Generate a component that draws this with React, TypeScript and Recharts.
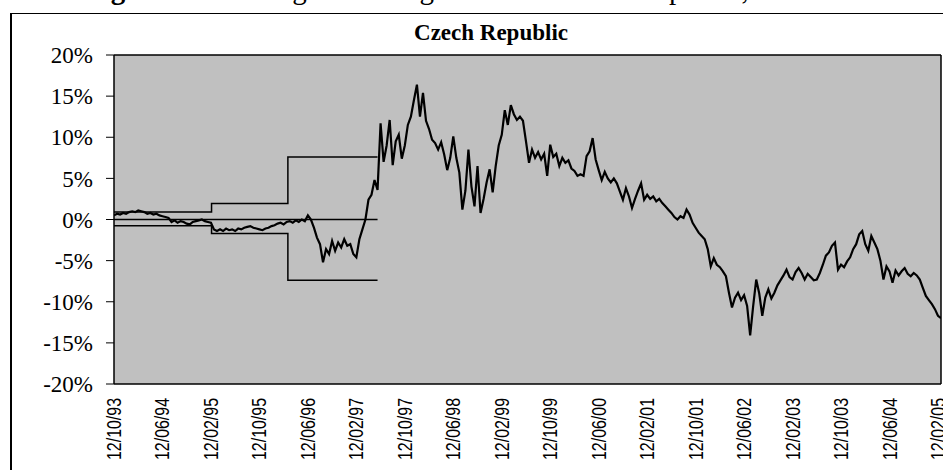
import { LineChart, Line, XAxis, YAxis, CartesianGrid, ReferenceLine } from "recharts";

// deviation of CZK from central parity, sampled every half month from 12/10/93
const DEVIATION = [
  0.5, 0.7, 0.6, 0.8, 0.7, 0.9, 1.0, 0.9, 1.1, 1.0, 0.9, 0.7, 0.8, 0.6, 0.7, 0.5, 0.4, 0.3, 0.2,
  -0.3, -0.1, -0.4, -0.2, -0.3, -0.5, -0.6, -0.3, -0.2, -0.1, 0.0, -0.2, -0.3, -0.4,
  -1.2, -1.4, -1.2, -1.4, -1.1, -1.3, -1.2, -1.4, -1.1, -1.2, -1.0, -0.9, -0.8, -1.0, -1.1, -1.2,
  -1.3, -1.1, -1.0, -0.8, -0.7, -0.5, -0.4, -0.6, -0.3, -0.2, -0.4, -0.1, -0.3, 0.0, -0.2, 0.5, 0.0,
  -1.0, -2.2, -3.0, -5.2, -3.6, -4.2, -2.6, -3.8, -2.8, -3.4, -2.4, -3.2, -3.0, -4.2, -4.6, -2.4,
  -1.2, 0.0, 2.4, 3.0, 4.8, 3.6,
  11.7, 7.0, 9.0, 12.1, 6.6, 9.5, 10.3, 7.4, 9.0, 11.5, 12.5, 14.5, 16.4, 12.5, 15.4, 12.0, 11.0,
  9.7, 9.3, 8.5, 9.4, 7.9, 6.0, 7.5, 10.1, 7.5, 5.7, 1.2, 3.5, 8.5, 4.0, 1.6, 6.5, 0.8, 2.5, 4.5,
  6.1, 3.3, 6.5, 9.0, 10.3, 13.3, 11.5, 13.9, 12.8, 12.1, 12.5, 12.0, 9.5, 6.9, 8.5, 7.5, 8.2, 7.3,
  8.0, 5.3, 9.1, 7.6, 8.0, 6.5, 7.5, 6.9, 7.2, 6.2, 5.9, 5.3, 5.5, 5.3, 7.7, 8.3, 9.9, 7.3, 6.0,
  4.8, 5.8, 5.0, 4.5, 5.0, 4.4, 3.4, 2.4, 3.8, 2.8, 1.4, 2.5, 3.5, 4.4, 2.4, 3.0, 2.5, 2.8, 2.2,
  2.5, 2.0, 1.6, 1.2, 0.8, 0.3, 0.0, 0.4, 0.2, 1.2, 0.6, -0.4, -1.0, -1.6, -2.0, -2.4, -3.6, -5.7,
  -4.7, -5.5, -5.8, -6.3, -6.9, -8.9, -10.7, -9.5, -8.9, -9.8, -9.2, -10.5, -14.1, -10.5, -7.3,
  -9.0, -11.7, -9.5, -8.5, -9.6, -8.9, -8.0, -7.4, -6.8, -6.1, -7.0, -7.3, -6.4, -5.9, -6.5, -7.3,
  -6.6, -7.0, -7.4, -7.3, -6.5, -5.5, -4.4, -4.0, -3.2, -2.8, -6.1, -5.5, -5.8, -5.1, -4.6, -3.6,
  -3.0, -1.8, -1.4, -3.0, -3.8, -2.0, -2.8, -3.6, -5.0, -7.3, -5.7, -6.3, -7.7, -6.2, -6.8, -6.3,
  -5.9, -6.6, -6.9, -6.5, -6.8, -7.3, -8.3, -9.3, -9.8, -10.3, -10.9, -11.7, -12.0,
];

// fluctuation band (months after 12/10/93)
const BAND_MONTHS = [0, 16.1, 28.7, 43.5];
const BAND_UPPER = [0.9, 1.95, 7.6, 7.6];
const BAND_LOWER = [-0.75, -1.7, -7.4, -7.4];
const PARITY_MONTHS = [0, 43.5];
const PARITY = [0, 0];

const X_TICKS = [0, 8, 16, 24, 32, 40, 48, 56, 64, 72, 80, 88, 96, 104, 112, 120, 128, 136];
const X_LABELS = [
  "12/10/93", "12/06/94", "12/02/95", "12/10/95", "12/06/96", "12/02/97", "12/10/97", "12/06/98",
  "12/02/99", "12/10/99", "12/06/00", "12/02/01", "12/10/01", "12/06/02", "12/02/03", "12/10/03",
  "12/06/04", "12/02/05",
];
const Y_TICKS = [-20, -15, -10, -5, 0, 5, 10, 15, 20];

const seriesData = DEVIATION.map((v, i) => ({ m: i * 0.5, v }));
const upperData = BAND_MONTHS.map((m, i) => ({ m, v: BAND_UPPER[i] }));
const lowerData = BAND_MONTHS.map((m, i) => ({ m, v: BAND_LOWER[i] }));
const parityData = PARITY_MONTHS.map((m, i) => ({ m, v: PARITY[i] }));

const X_MAX = 136.5;

function DateTick(props: any) {
  const { x, payload } = props;
  const idx = X_TICKS.indexOf(payload.value);
  if (idx < 0) return null;
  return (
    <g transform={`translate(${x},398)`}>
      <text
        transform="rotate(-90)"
        textAnchor="end"
        dominantBaseline="central"
        fontFamily="'Liberation Sans', Arial, sans-serif"
        fontSize={20}
        textLength={62}
        lengthAdjust="spacingAndGlyphs"
        fill="#000"
      >
        {X_LABELS[idx]}
      </text>
    </g>
  );
}

export default function App() {
  return (
    <div style={{ position: "fixed", left: 0, top: 0, width: 943, height: 470, background: "#fff", overflow: "hidden" }}>
      <LineChart width={943} height={470} margin={{ top: 55, right: 2, bottom: 0, left: 0 }}>
        <CartesianGrid fill="#C0C0C0" fillOpacity={1} horizontal={false} vertical={false} stroke="none" />
        <XAxis
          dataKey="m"
          type="number"
          domain={[0, X_MAX]}
          ticks={X_TICKS}
          tick={<DateTick />}
          tickLine={false}
          axisLine={{ stroke: "#000", strokeWidth: 1.5 }}
          height={86}
          allowDataOverflow
          interval={0}
        />
        <YAxis
          type="number"
          domain={[-20, 20]}
          ticks={Y_TICKS}
          width={114}
          tickSize={8}
          tickMargin={13}
          tickFormatter={(v) => `${v}%`}
          tick={{ fill: "#000", fontSize: 23, fontFamily: "'Liberation Serif', 'Times New Roman', serif" }}
          tickLine={{ stroke: "#000" }}
          axisLine={{ stroke: "#000", strokeWidth: 1.5 }}
          interval={0}
        />
        <ReferenceLine y={20} stroke="#000" strokeWidth={1.5} />
        <ReferenceLine x={X_MAX} stroke="#000" strokeWidth={1.5} />
        <Line data={upperData} dataKey="v" type="stepAfter" stroke="#000" strokeWidth={1.5} dot={false} isAnimationActive={false} />
        <Line data={lowerData} dataKey="v" type="stepAfter" stroke="#000" strokeWidth={1.5} dot={false} isAnimationActive={false} />
        <Line data={parityData} dataKey="v" type="linear" stroke="#000" strokeWidth={1.5} dot={false} isAnimationActive={false} />
        <Line data={seriesData} dataKey="v" type="linear" stroke="#000" strokeWidth={2.2} dot={false} isAnimationActive={false} />
      </LineChart>
      <svg width={943} height={470} style={{ position: "absolute", left: 0, top: 0, pointerEvents: "none" }}>
        <text x={85} y={-1} fontFamily="'Liberation Serif', 'Times New Roman', serif" fontSize={29} fill="#000">
          <tspan fontWeight="bold">Figure 4:</tspan> Exchange Rate Regime in the Czech Republic, 1993-2005
        </text>
        <line x1={10} y1={13.5} x2={943} y2={13.5} stroke="#000" strokeWidth={1} />
        <line x1={11} y1={13} x2={11} y2={470} stroke="#000" strokeWidth={2} />
        <text
          x={491}
          y={40}
          textAnchor="middle"
          fontFamily="'Liberation Serif', 'Times New Roman', serif"
          fontWeight="bold"
          fontSize={23}
          fill="#000"
        >
          Czech Republic
        </text>
      </svg>
    </div>
  );
}
